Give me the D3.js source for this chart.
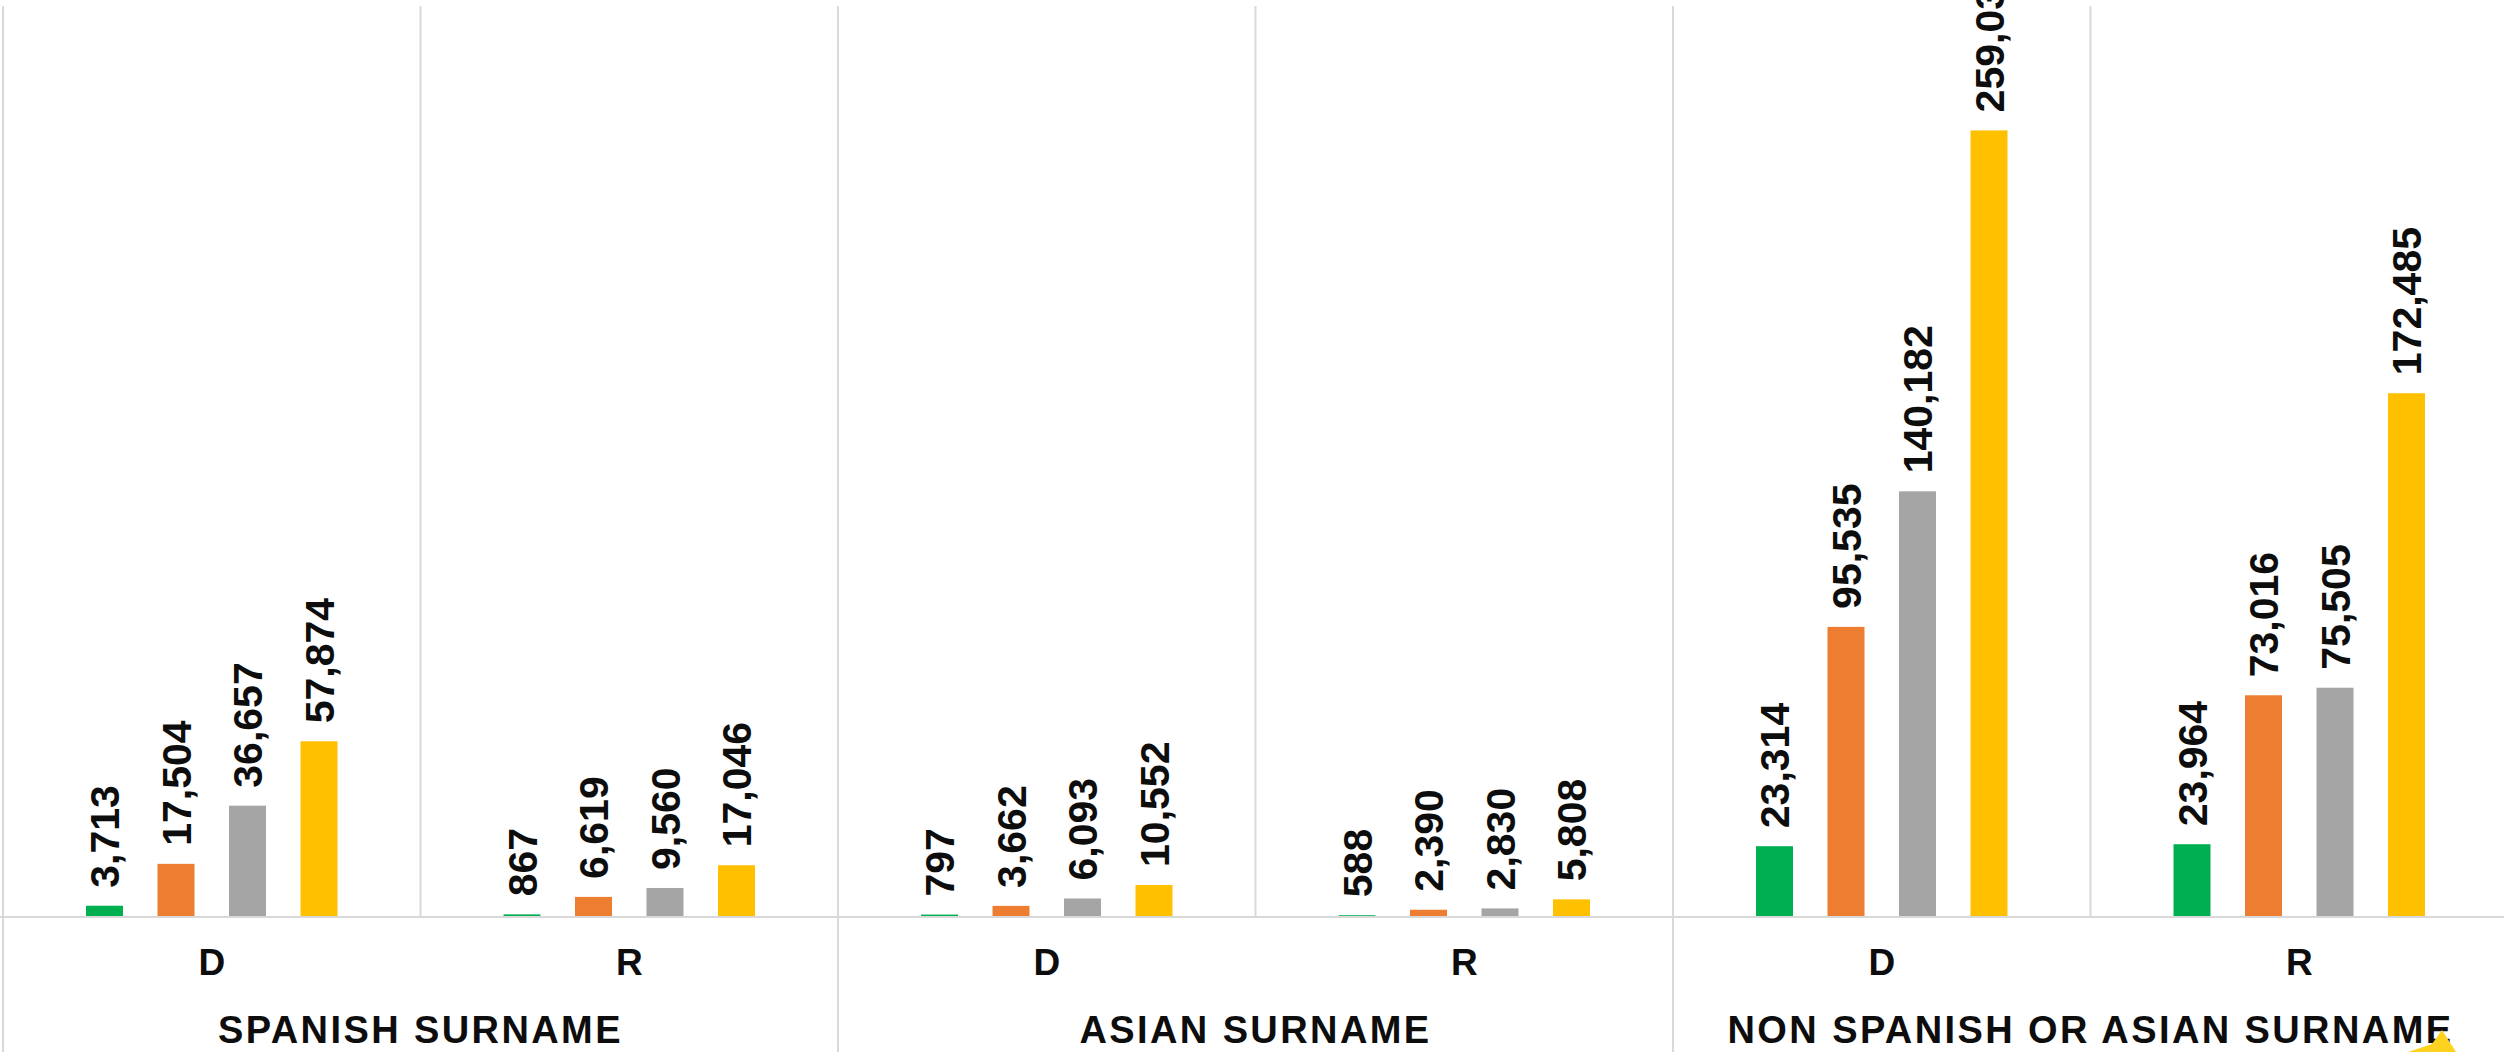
<!DOCTYPE html>
<html>
<head>
<meta charset="utf-8">
<script src="https://cdn.jsdelivr.net/npm/d3@7"></script>
<style>
body { margin: 0; background: #fff; }
text { font-family: "Liberation Sans", Arial, sans-serif; font-weight: bold; fill: #0d0d0d; }
</style>
</head>
<body>
<svg></svg>
<script>
var groups = ["SPANISH SURNAME", "ASIAN SURNAME", "NON SPANISH OR ASIAN SURNAME"];
var parties = ["D", "R"];
var seriesNames = ["Series 1", "Series 2", "Series 3", "Total"];
var seriesColors = ["#00B050", "#ED7D31", "#A5A5A5", "#FFC000"];

// values per sub-category: Spanish D, Spanish R, Asian D, Asian R, Non D, Non R
var series1 = [3713, 867, 797, 588, 23314, 23964];
var series2 = [17504, 6619, 3662, 2390, 95535, 73016];
var series3 = [36657, 9560, 6093, 2830, 140182, 75505];
var totals = [57874, 17046, 10552, 5808, 259031, 172485];

var screen = {width: 2504, height: 1052};
var plot = {left: 3, right: 2508, top: 6, base: 917};

var cats = [];
groups.forEach(function(g){
    parties.forEach(function(p){
        cats.push({group: g, party: p, key: g + "|" + p});
    });
});

var allSeries = [series1, series2, series3, totals];
var bars = [];
cats.forEach(function(c, i){
    seriesNames.forEach(function(s, j){
        bars.push({key: c.key, series: s, color: seriesColors[j], value: allSeries[j][i]});
    });
});

var svg = d3.select("svg")
    .attr("width", screen.width)
    .attr("height", screen.height);

var xGroup = d3.scaleBand()
    .domain(groups)
    .range([plot.left, plot.right]);

var x0 = d3.scaleBand()
    .domain(cats.map(function(c){ return c.key; }))
    .range([plot.left, plot.right]);

var x1 = d3.scaleBand()
    .domain(seriesNames)
    .range([0, x0.bandwidth()])
    .paddingInner(0.4825)
    .paddingOuter(1.161);

var yScale = d3.scaleLinear()
    .domain([0, 300000])
    .range([plot.base, plot.top]);

var grid = svg.append("g").attr("id", "grid")
    .attr("stroke", "#d9d9d9")
    .attr("stroke-width", 2);

// lines between D and R (stop at the baseline)
grid.selectAll(".inner")
    .data(groups)
    .enter()
    .append("line")
    .attr("x1", function(g){ return xGroup(g) + xGroup.bandwidth() / 2; })
    .attr("x2", function(g){ return xGroup(g) + xGroup.bandwidth() / 2; })
    .attr("y1", yScale(300000))
    .attr("y2", yScale(0));

// group separators run down through the labels
grid.selectAll(".outer")
    .data(groups.concat(["end"]))
    .enter()
    .append("line")
    .attr("x1", function(g, i){ return plot.left + i * xGroup.bandwidth(); })
    .attr("x2", function(g, i){ return plot.left + i * xGroup.bandwidth(); })
    .attr("y1", yScale(300000))
    .attr("y2", screen.height);

grid.append("line")
    .attr("x1", 0)
    .attr("x2", screen.width)
    .attr("y1", yScale(0))
    .attr("y2", yScale(0));

var fmt = d3.format(",");

var barG = svg.append("g").attr("id", "bars");

barG.selectAll("rect")
    .data(bars)
    .enter()
    .append("rect")
    .attr("x", function(d){ return x0(d.key) + x1(d.series); })
    .attr("width", x1.bandwidth())
    .attr("y", function(d){ return yScale(d.value); })
    .attr("height", function(d){ return yScale(0) - yScale(d.value) - 1; })
    .attr("fill", function(d){ return d.color; });

barG.selectAll("text")
    .data(bars)
    .enter()
    .append("text")
    .attr("transform", function(d){
        var cx = x0(d.key) + x1(d.series) + x1.bandwidth() / 2;
        return "translate(" + cx + "," + (yScale(d.value) - 18) + ") rotate(-90)";
    })
    .attr("dy", "0.36em")
    .attr("font-size", 41)
    .text(function(d){ return fmt(d.value); });

// party labels
svg.append("g")
    .selectAll("text")
    .data(cats)
    .enter()
    .append("text")
    .attr("x", function(c){ return x0(c.key) + x0.bandwidth() / 2; })
    .attr("y", 975)
    .attr("text-anchor", "middle")
    .attr("font-size", 37)
    .text(function(c){ return c.party; });

// group labels
svg.append("g")
    .selectAll("text")
    .data(groups)
    .enter()
    .append("text")
    .attr("x", function(g){ return xGroup(g) + xGroup.bandwidth() / 2; })
    .attr("y", 1043)
    .attr("text-anchor", "middle")
    .attr("font-size", 38)
    .attr("letter-spacing", "2.4px")
    .text(function(g){ return g; });

// little yellow shape peeking in at bottom right
svg.append("path")
    .attr("d", "M2408,1052 L2432,1044 L2442,1030 L2456,1052 Z")
    .attr("fill", "#FFD21F");
</script>
</body>
</html>
